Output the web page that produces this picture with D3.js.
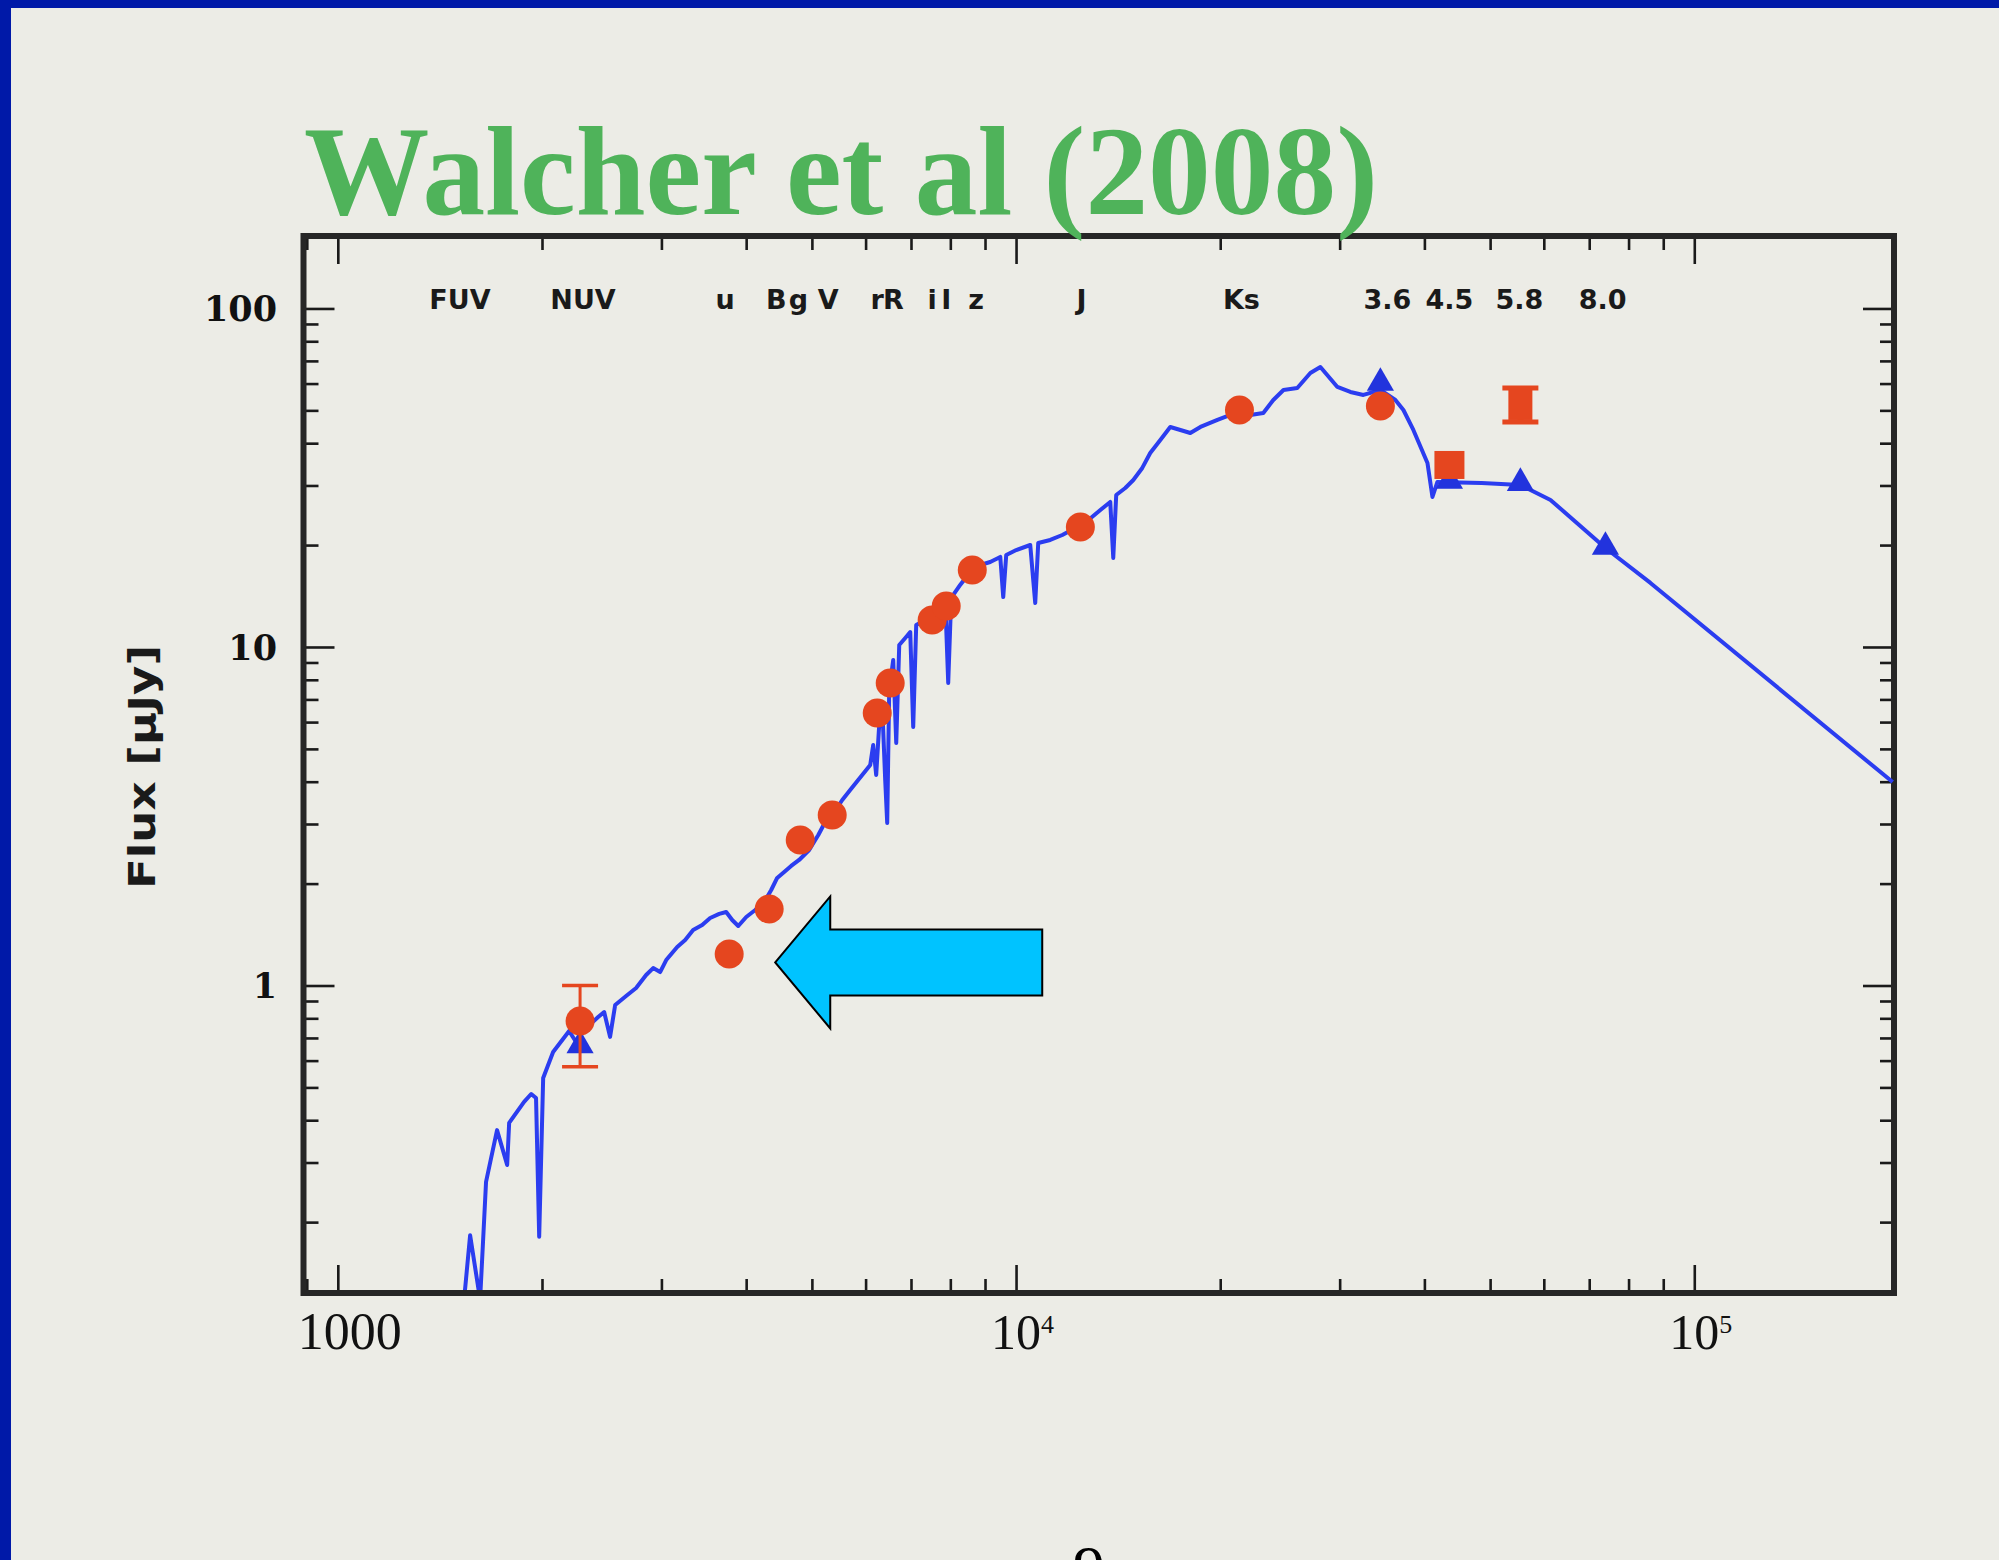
<!DOCTYPE html>
<html>
<head>
<meta charset="utf-8">
<script src="https://cdn.jsdelivr.net/npm/d3@7"></script>
<style>
  html, body { margin: 0; padding: 0; background: #ecece6; }
  svg { display: block; }
</style>
</head>
<body>
<script>
// ---- Model SED (wavelength in Angstrom, flux in microJansky) ----
const modelWavelength = [
  1535, 1567, 1621, 1654, 1717, 1777, 1789, 1882, 1928, 1960, 1981, 2008, 2077, 2193, 2245, 2307,
  2420, 2470, 2520, 2564, 2661, 2753, 2848, 2917, 2987, 3049, 3165, 3252, 3341, 3445, 3540, 3650,
  3738, 3815, 3894, 4001, 4125, 4253, 4355, 4444, 4551, 4660, 4788, 4954, 5110, 5250, 5395, 5543,
  5694, 5851, 6013, 6095, 6157, 6220, 6284, 6348, 6413, 6457, 6501, 6590, 6658, 6726, 6865, 6982,
  7053, 7125, 7346, 7600, 7862, 7943, 8024, 8272, 8557, 8855, 9160, 9478, 9574, 9672, 10007, 10493,
  10673, 10782, 11230, 11700, 12230, 12785, 13314, 13768, 13910, 14050, 14490, 14890, 15350, 15770,
  16320, 16880, 17470, 18070, 18700, 19810, 21270, 22150, 23150, 23950, 24790, 25980, 27160, 28100,
  29770, 31110, 32520, 34450, 36250, 37250, 38530, 40420, 41110, 41810, 48580, 55410, 61380, 73960,
  86170, 196100
];
const modelFlux = [
  0.1177, 0.183, 0.118, 0.263, 0.374, 0.295, 0.393, 0.453, 0.478, 0.465, 0.181, 0.533, 0.636, 0.734, 0.681, 0.739,
  0.807, 0.835, 0.705, 0.876, 0.931, 0.983, 1.074, 1.126, 1.096, 1.189, 1.30, 1.363, 1.459, 1.509, 1.583, 1.627,
  1.649, 1.561, 1.499, 1.594, 1.671, 1.765, 1.915, 2.078, 2.164, 2.255, 2.349, 2.513, 2.784, 3.083, 3.254, 3.532,
  3.781, 4.046, 4.331, 4.481, 5.134, 4.187, 5.884, 6.742, 4.046, 3.020, 7.464, 9.155, 5.204, 10.14, 10.63, 11.07,
  5.803, 11.61, 12.02, 12.69, 13.77, 7.83, 13.96, 15.25, 16.66, 17.47, 17.83, 18.45, 14.05, 18.70, 19.34, 20.01,
  13.49, 20.29, 20.71, 21.42, 22.47, 23.73, 25.39, 26.82, 18.32, 28.12, 29.49, 31.14, 33.80, 37.42,
  40.88, 44.66, 43.76, 42.87, 44.66, 46.84, 49.45, 48.45, 49.12, 53.66, 57.44, 58.23, 64.48, 67.18,
  58.63, 56.67, 55.53, 57.44, 53.66, 50.13, 43.76, 34.96, 27.74, 30.72, 30.51, 30.10, 27.19, 19.61,
  15.46, 3.99
];

// ---- Model photometry through the filters (triangles) ----
const modelPhotWavelength = [2276, 34450, 43550, 55410, 73960];
const modelPhotFlux = [0.665, 60.25, 30.93, 30.5, 19.74];

// ---- Observed photometry ----
const obsBand = ["NUV", "u", "B", "g", "V", "r", "R", "i", "I", "z", "J", "Ks", "3.6", "4.5", "5.8"];
const obsWavelength = [2276, 3776, 4325, 4806, 5357, 6242, 6523, 7521, 7889, 8619, 12440, 21350, 34450, 43550, 55410];
const obsFlux = [0.785, 1.239, 1.683, 2.691, 3.189, 6.383, 7.83, 12.02, 13.22, 16.89, 22.62, 50.13, 51.52, 34.49, 51.87];
const obsErrLow = [0.575, null, null, null, null, null, null, null, null, null, null, null, null, null, 46.2];
const obsErrHigh = [1.0, null, null, null, null, null, null, null, null, null, null, null, null, null, 58.2];

// ---- Filter labels along the top of the panel ----
const bandLabels = ["FUV", "NUV", "u", "B", "g", "V", "r", "R", "i", "I", "z", "J", "Ks", "3.6", "4.5", "5.8", "8.0"];
const bandLabelWavelength = [1514, 2299, 3725, 4430, 4775, 5284, 6243, 6594, 7521, 7890, 8735, 12486, 21490, 35280, 43550, 55220, 73260];

// ---- Axis ticks ----
const xMajorTicks = [1000, 10000, 100000];
const xTickBase = ["1000", "10", "10"];
const xTickExponent = ["", "4", "5"];
const yMajorTicks = [1, 10, 100];
const yTickLabels = ["1", "10", "100"];

const titleText = "Walcher et al (2008)";
const yAxisTitle = "Flux [\u03BCJy]";
const slideNumber = "9";

// Arrow annotation pointing at the u-band deficit
const arrowTip = { w: 4415, f: 1.17 };

// ------------------------------------------------------------------
const W = 1999, H = 1560;
const svg = d3.select("body").append("svg").attr("width", W).attr("height", H);

svg.append("rect").attr("width", W).attr("height", H).attr("fill", "#ecece6");
svg.append("rect").attr("x", 0).attr("y", 0).attr("width", W).attr("height", 8).attr("fill", "#0019a8");
svg.append("rect").attr("x", 0).attr("y", 0).attr("width", 11).attr("height", H).attr("fill", "#0019a8");

const plot = { left: 303.5, right: 1894, top: 236, bottom: 1293 };
const x = d3.scaleLog().domain([890, 197000]).range([plot.left, plot.right]);
const y = d3.scaleLog().domain([0.1235, 163.7]).range([plot.bottom, plot.top]);

// minor tick values inside each domain
function minorTicks(domain, decades) {
  const out = [];
  decades.forEach(d => { for (let k = 2; k <= 9; k++) { const v = k * d; if (v > domain[0] && v < domain[1]) out.push(v); } });
  return out;
}
const xMinor = minorTicks(x.domain(), [100, 1000, 10000, 100000]);
const yMinor = minorTicks(y.domain(), [0.1, 1, 10, 100]);

const axisColor = "#1a1a1a";
function drawAxis(axis, transform) {
  const g = svg.append("g").attr("transform", transform).call(axis);
  g.select(".domain").remove();
  g.selectAll(".tick line").attr("stroke", axisColor).attr("stroke-width", 2.6);
  g.selectAll(".tick text").remove();
  return g;
}
// inward ticks on all four sides
drawAxis(d3.axisBottom(x).tickValues(xMajorTicks).tickSizeInner(-28).tickSizeOuter(0), `translate(0,${plot.bottom})`);
drawAxis(d3.axisBottom(x).tickValues(xMinor).tickSizeInner(-14).tickSizeOuter(0), `translate(0,${plot.bottom})`);
drawAxis(d3.axisTop(x).tickValues(xMajorTicks).tickSizeInner(-28).tickSizeOuter(0), `translate(0,${plot.top})`);
drawAxis(d3.axisTop(x).tickValues(xMinor).tickSizeInner(-14).tickSizeOuter(0), `translate(0,${plot.top})`);
drawAxis(d3.axisLeft(y).tickValues(yMajorTicks).tickSizeInner(-31).tickSizeOuter(0), `translate(${plot.left},0)`);
drawAxis(d3.axisLeft(y).tickValues(yMinor).tickSizeInner(-15).tickSizeOuter(0), `translate(${plot.left},0)`);
drawAxis(d3.axisRight(y).tickValues(yMajorTicks).tickSizeInner(-31).tickSizeOuter(0), `translate(${plot.right},0)`);
drawAxis(d3.axisRight(y).tickValues(yMinor).tickSizeInner(-14).tickSizeOuter(0), `translate(${plot.right},0)`);

// frame
svg.append("rect")
  .attr("x", plot.left).attr("y", plot.top)
  .attr("width", plot.right - plot.left).attr("height", plot.bottom - plot.top)
  .attr("fill", "none").attr("stroke", "#262626").attr("stroke-width", 6);

// x tick labels (1000, 10^4, 10^5)
const xLab = svg.append("g").attr("font-family", "Liberation Serif, Times New Roman, serif").attr("fill", "#111");
xMajorTicks.forEach((v, i) => {
  if (xTickExponent[i]) {
    xLab.append("text").attr("x", x(v)).attr("y", 1349).attr("text-anchor", "middle")
      .attr("font-size", 50).text(xTickBase[i]);
    xLab.append("text").attr("x", x(v) + 25).attr("y", 1333).attr("text-anchor", "start")
      .attr("font-size", 26).text(xTickExponent[i]);
  } else {
    xLab.append("text").attr("x", x(v) + 12).attr("y", 1349).attr("text-anchor", "middle")
      .attr("font-size", 52).text(xTickBase[i]);
  }
});

// y tick labels
svg.append("g").selectAll("text").data(yMajorTicks).join("text")
  .attr("x", 277).attr("y", d => y(d)).attr("dy", "0.36em")
  .attr("text-anchor", "end")
  .attr("font-family", "DejaVu Serif, serif").attr("font-weight", "bold").attr("font-size", 35)
  .attr("fill", "#111")
  .text((d, i) => yTickLabels[i]);

// y axis title
svg.append("text")
  .attr("transform", "translate(141,767) rotate(-90)")
  .attr("text-anchor", "middle").attr("dy", "0.36em")
  .attr("font-family", "DejaVu Sans, sans-serif").attr("font-weight", "bold").attr("font-size", 38)
  .attr("textLength", 244).attr("lengthAdjust", "spacingAndGlyphs")
  .attr("fill", "#1a1a1a")
  .text(yAxisTitle);

// filter labels
svg.append("g").selectAll("text").data(bandLabels).join("text")
  .attr("x", (d, i) => x(bandLabelWavelength[i])).attr("y", 299).attr("dy", "0.36em")
  .attr("text-anchor", "middle")
  .attr("font-family", "DejaVu Sans, sans-serif").attr("font-weight", "bold").attr("font-size", 27)
  .attr("fill", "#1a1a1a")
  .text(d => d);

// clip region for the spectrum
svg.append("defs").append("clipPath").attr("id", "plot-clip")
  .append("rect").attr("x", plot.left).attr("y", plot.top)
  .attr("width", plot.right - plot.left).attr("height", plot.bottom - plot.top - 3);

const spectrum = modelWavelength.map((w, i) => ({ w, f: modelFlux[i] }));
const line = d3.line().x(d => x(d.w)).y(d => y(d.f));
svg.append("path").datum(spectrum)
  .attr("clip-path", "url(#plot-clip)")
  .attr("d", line)
  .attr("fill", "none").attr("stroke", "#2b3df0").attr("stroke-width", 4)
  .attr("stroke-linejoin", "round");

// model photometry triangles
const tri = d3.symbol().type(d3.symbolTriangle).size(320);
svg.append("g").selectAll("path").data(modelPhotWavelength).join("path")
  .attr("transform", (d, i) => `translate(${x(d)},${y(modelPhotFlux[i])})`)
  .attr("d", tri).attr("fill", "#2233dd");

// observed photometry: error bars then markers
const red = "#e5461f";
const obs = obsWavelength.map((w, i) => ({ w, f: obsFlux[i], lo: obsErrLow[i], hi: obsErrHigh[i], band: obsBand[i] }));
const eb = svg.append("g").attr("stroke", red);
obs.filter(d => d.lo !== null).forEach(d => {
  const sw = d.band === "NUV" ? 3 : 6;
  const cx = x(d.w);
  eb.append("line").attr("x1", cx).attr("x2", cx).attr("y1", y(d.lo)).attr("y2", y(d.hi)).attr("stroke-width", sw);
  [d.lo, d.hi].forEach(v => eb.append("line")
    .attr("x1", cx - 18).attr("x2", cx + 18).attr("y1", y(v)).attr("y2", y(v)).attr("stroke-width", sw === 3 ? 3.5 : 5));
});
const squareBands = new Set(["4.5", "5.8"]);
svg.append("g").selectAll("circle").data(obs.filter(d => !squareBands.has(d.band))).join("circle")
  .attr("cx", d => x(d.w)).attr("cy", d => y(d.f)).attr("r", 14.5).attr("fill", red);
svg.append("g").selectAll("rect").data(obs.filter(d => squareBands.has(d.band))).join("rect")
  .attr("x", d => x(d.w) - (d.band === "5.8" ? 12 : 15))
  .attr("y", d => y(d.f) - (d.band === "5.8" ? 15 : 14))
  .attr("width", d => d.band === "5.8" ? 24 : 30)
  .attr("height", d => d.band === "5.8" ? 30 : 28)
  .attr("fill", red);

// arrow annotation
const tx = x(arrowTip.w), ty = y(arrowTip.f);
const arrowShape = [[0, 0], [55, -66], [55, -33], [267, -33], [267, 33], [55, 33], [55, 66]];
svg.append("polygon")
  .attr("points", arrowShape.map(p => [tx + p[0], ty + p[1]].join(",")).join(" "))
  .attr("fill", "#00c3ff").attr("stroke", "#000").attr("stroke-width", 2).attr("stroke-linejoin", "miter");

// title
svg.append("text")
  .attr("x", 304).attr("y", 214)
  .attr("font-family", "Liberation Serif, Times New Roman, serif").attr("font-weight", "bold")
  .attr("font-size", 128)
  .attr("textLength", 1074).attr("lengthAdjust", "spacingAndGlyphs")
  .attr("fill", "#4fb35a")
  .text(titleText);

// slide number, cut by the bottom edge
svg.append("text")
  .attr("x", 1089).attr("y", 1590).attr("text-anchor", "middle")
  .attr("font-family", "Liberation Serif, Times New Roman, serif").attr("font-size", 64)
  .attr("fill", "#000")
  .text(slideNumber);
</script>
</body>
</html>
